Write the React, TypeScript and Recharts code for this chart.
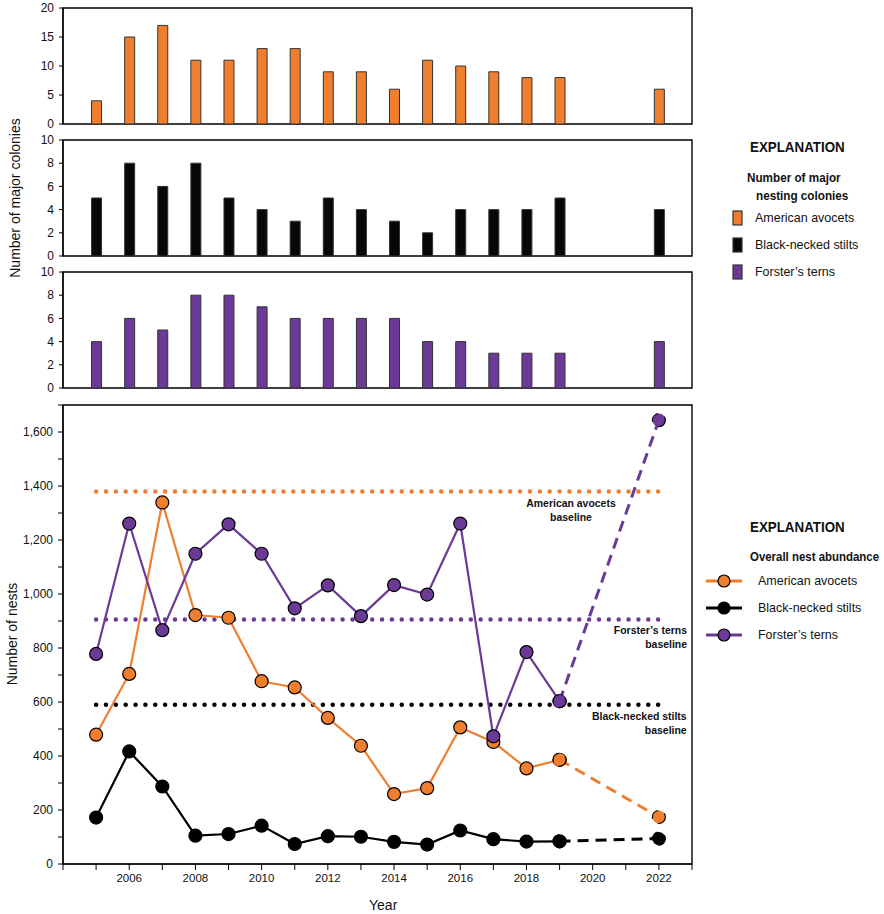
import React from 'react';
import { BarChart, Bar, LineChart, Line, XAxis, YAxis, ReferenceArea, ReferenceLine } from 'recharts';

const FONT = "'Liberation Sans', Arial, sans-serif";
const ORANGE = '#EF7F2F';
const PURPLE = '#6B3A96';
const BLACK = '#060808';

const years = [2005, 2006, 2007, 2008, 2009, 2010, 2011, 2012, 2013, 2014, 2015, 2016, 2017, 2018, 2019, 2022];
const avocetColonies = [4, 15, 17, 11, 11, 13, 13, 9, 9, 6, 11, 10, 9, 8, 8, 6];
const stiltColonies = [5, 8, 6, 8, 5, 4, 3, 5, 4, 3, 2, 4, 4, 4, 5, 4];
const ternColonies = [4, 6, 5, 8, 8, 7, 6, 6, 6, 6, 4, 4, 3, 3, 3, 4];

const avocetNests = [479, 704, 1339, 922, 912, 677, 654, 541, 438, 259, 281, 506, 452, 354, 386, 174];
const stiltNests = [172, 417, 287, 105, 111, 142, 74, 103, 101, 82, 72, 124, 92, 83, 84, 94];
const ternNests = [778, 1261, 866, 1149, 1258, 1149, 947, 1032, 918, 1033, 998, 1261, 473, 785, 603, 1644];

const avocetBaseline = 1380;
const ternBaseline = 906;
const stiltBaseline = 590;
const baselineStart = 2005;
const baselineEnd = 2022;
const lastSurveyYear = 2019;

const xTicks = [2004, 2005, 2006, 2007, 2008, 2009, 2010, 2011, 2012, 2013, 2014, 2015, 2016, 2017, 2018, 2019, 2020, 2021, 2022, 2023];
const nestTicks = [0, 100, 200, 300, 400, 500, 600, 700, 800, 900, 1000, 1100, 1200, 1300, 1400, 1500, 1600, 1700];
const avocetColonyTicks = [0, 5, 10, 15, 20];
const smallColonyTicks = [0, 2, 4, 6, 8, 10];

const lineData = years.map((y, i) => ({
  year: y,
  avocet: y <= lastSurveyYear ? avocetNests[i] : null,
  stilt: y <= lastSurveyYear ? stiltNests[i] : null,
  tern: y <= lastSurveyYear ? ternNests[i] : null,
  avocetD: y >= lastSurveyYear ? avocetNests[i] : null,
  stiltD: y >= lastSurveyYear ? stiltNests[i] : null,
  ternD: y >= lastSurveyYear ? ternNests[i] : null,
}));

const tickStyle = { fill: '#111', fontSize: 12, fontFamily: FONT };

function BarPanel({ values, color, max, ticks, top }: { values: number[]; color: string; max: number; ticks: number[]; top: number }) {
  const data = years.map((y, i) => ({ year: y, value: values[i] }));
  return (
    <div style={{ position: 'absolute', left: 0, top }}>
      <BarChart width={700} height={130} data={data} margin={{ top: 8, right: 8, bottom: 6, left: 0 }} style={{ overflow: 'visible' }}>
        <XAxis type="number" dataKey="year" domain={[2004, 2023]} hide />
        <YAxis
          domain={[0, max]}
          ticks={ticks}
          width={63}
          tickSize={4}
          tickMargin={5}
          interval={0}
          tick={tickStyle}
          axisLine={{ stroke: '#000', strokeWidth: 1.2 }}
          tickLine={{ stroke: '#000' }}
        />
        <ReferenceArea x1={2004} x2={2023} y1={0} y2={max} fill="none" stroke="#000" strokeWidth={1.4} ifOverflow="visible" />
        <Bar dataKey="value" fill={color} stroke="#333" strokeWidth={1} barSize={10} isAnimationActive={false} />
      </BarChart>
    </div>
  );
}

const dotStyle = (c: string) => ({ r: 6.5, fill: c, stroke: '#000', strokeWidth: 1.2 });

function Swatch({ color }: { color: string }) {
  return (
    <svg width={12} height={17} style={{ position: 'absolute', left: 0, top: 0 }}>
      <rect x={1} y={1} width={9} height={14} fill={color} stroke="#333" strokeWidth={1.2} />
    </svg>
  );
}

function LineIcon({ color }: { color: string }) {
  return (
    <svg width={40} height={16} style={{ position: 'absolute', left: 0, top: 0 }}>
      <line x1={2} y1={8} x2={38} y2={8} stroke={color} strokeWidth={3} />
      <circle cx={20} cy={8} r={6} fill={color} stroke="#000" strokeWidth={1.2} />
    </svg>
  );
}

const textBase: React.CSSProperties = { position: 'absolute', fontFamily: FONT, color: '#111', whiteSpace: 'nowrap' };
const condensed = (s: number): React.CSSProperties => ({ transform: `scaleX(${s})`, transformOrigin: 'left center' });

export default function App() {
  return (
    <div style={{ position: 'absolute', left: 0, top: 0, width: 884, height: 914, background: '#fff', overflow: 'hidden' }}>
      <BarPanel values={avocetColonies} color={ORANGE} max={20} ticks={avocetColonyTicks} top={0} />
      <BarPanel values={stiltColonies} color={BLACK} max={10} ticks={smallColonyTicks} top={132} />
      <BarPanel values={ternColonies} color={PURPLE} max={10} ticks={smallColonyTicks} top={264} />

      <div style={{ ...textBase, left: 15, top: 198, fontSize: 14, transform: 'translate(-50%, -50%) rotate(-90deg)' }}>Number of major colonies</div>

      <div style={{ position: 'absolute', left: 0, top: 395 }}>
        <LineChart width={700} height={519} data={lineData} margin={{ top: 10, right: 8, bottom: 0, left: 0 }}>
          <XAxis
            type="number"
            dataKey="year"
            domain={[2004, 2023]}
            ticks={xTicks}
            interval={0}
            height={50}
            tickSize={6}
            tickMargin={4}
            tick={{ ...tickStyle, fontSize: 11.5 }}
            tickFormatter={(v: number) => (v % 2 === 0 && v > 2004 ? String(v) : '')}
            axisLine={{ stroke: '#000', strokeWidth: 1.2 }}
            tickLine={{ stroke: '#000' }}
          />
          <YAxis
            domain={[0, 1700]}
            ticks={nestTicks}
            interval={0}
            width={63}
            tickSize={5}
            tickMargin={5}
            tick={tickStyle}
            tickFormatter={(v: number) => (v % 200 === 0 && v <= 1600 ? v.toLocaleString('en-US') : '')}
            axisLine={{ stroke: '#000', strokeWidth: 1.2 }}
            tickLine={{ stroke: '#000' }}
          />
          <ReferenceArea x1={2004} x2={2023} y1={0} y2={1700} fill="none" stroke="#000" strokeWidth={1.4} ifOverflow="visible" />
          <ReferenceLine segment={[{ x: baselineStart, y: avocetBaseline }, { x: baselineEnd, y: avocetBaseline }]} stroke={ORANGE} strokeWidth={4.5} strokeDasharray="0 9.86" strokeLinecap="round" />
          <ReferenceLine segment={[{ x: baselineStart, y: ternBaseline }, { x: baselineEnd, y: ternBaseline }]} stroke={PURPLE} strokeWidth={4.5} strokeDasharray="0 9.86" strokeLinecap="round" />
          <ReferenceLine segment={[{ x: baselineStart, y: stiltBaseline }, { x: baselineEnd, y: stiltBaseline }]} stroke="#000" strokeWidth={4.5} strokeDasharray="0 9.86" strokeLinecap="round" />
          <Line dataKey="stilt" stroke="#000" strokeWidth={2.2} dot={dotStyle('#000')} isAnimationActive={false} />
          <Line dataKey="stiltD" stroke="#000" strokeWidth={3} strokeDasharray="11 7" connectNulls dot={dotStyle('#000')} isAnimationActive={false} />
          <Line dataKey="avocet" stroke={ORANGE} strokeWidth={2.2} dot={dotStyle(ORANGE)} isAnimationActive={false} />
          <Line dataKey="avocetD" stroke={ORANGE} strokeWidth={3} strokeDasharray="11 7" connectNulls dot={dotStyle(ORANGE)} isAnimationActive={false} />
          <Line dataKey="tern" stroke={PURPLE} strokeWidth={2.2} dot={dotStyle(PURPLE)} isAnimationActive={false} />
          <Line dataKey="ternD" stroke={PURPLE} strokeWidth={3} strokeDasharray="11 7" connectNulls dot={dotStyle(PURPLE)} isAnimationActive={false} />
        </LineChart>
      </div>

      <div style={{ ...textBase, left: 12, top: 634, fontSize: 14, transform: 'translate(-50%, -50%) rotate(-90deg)' }}>Number of nests</div>
      <div style={{ ...textBase, left: 369, top: 897, fontSize: 14, lineHeight: '16px' }}>Year</div>

      <div style={{ ...textBase, left: 571, top: 496, fontSize: 11, fontWeight: 'bold', textAlign: 'center', lineHeight: '14px', transform: 'translateX(-50%) scaleX(0.95)' }}>American avocets<br />baseline</div>
      <div style={{ ...textBase, right: 884 - 687, top: 623, fontSize: 11, fontWeight: 'bold', textAlign: 'right', lineHeight: '14px', transform: 'scaleX(0.95)', transformOrigin: 'right center' }}>Forster’s terns<br />baseline</div>
      <div style={{ ...textBase, right: 884 - 687, top: 709, fontSize: 11, fontWeight: 'bold', textAlign: 'right', lineHeight: '14px', transform: 'scaleX(0.95)', transformOrigin: 'right center' }}>Black-necked stilts<br />baseline</div>

      {/* Top explanation */}
      <div style={{ ...textBase, left: 750, top: 138, fontSize: 15, fontWeight: 'bold', ...condensed(0.89) }}>EXPLANATION</div>
      <div style={{ ...textBase, left: 747, top: 169, fontSize: 13, fontWeight: 'bold', lineHeight: '18px', ...condensed(0.9) }}>Number of major</div>
      <div style={{ ...textBase, left: 756, top: 187, fontSize: 13, fontWeight: 'bold', lineHeight: '18px', ...condensed(0.9) }}>nesting colonies</div>
      {[
        { label: 'American avocets', color: ORANGE, y: 210 },
        { label: 'Black-necked stilts', color: BLACK, y: 237 },
        { label: 'Forster’s terns', color: PURPLE, y: 264 },
      ].map((r) => (
        <div key={r.label} style={{ position: 'absolute', left: 732, top: r.y, width: 150, height: 17 }}>
          <Swatch color={r.color} />
          <div style={{ ...textBase, left: 23, top: 0, fontSize: 13, ...condensed(0.96) }}>{r.label}</div>
        </div>
      ))}

      {/* Bottom explanation */}
      <div style={{ ...textBase, left: 750, top: 518, fontSize: 15, fontWeight: 'bold', ...condensed(0.89) }}>EXPLANATION</div>
      <div style={{ ...textBase, left: 750, top: 549, fontSize: 13, fontWeight: 'bold', ...condensed(0.88) }}>Overall nest abundance</div>
      {[
        { label: 'American avocets', color: ORANGE, y: 573 },
        { label: 'Black-necked stilts', color: '#000', y: 600 },
        { label: 'Forster’s terns', color: PURPLE, y: 627 },
      ].map((r) => (
        <div key={r.label} style={{ position: 'absolute', left: 704, top: r.y, width: 180, height: 17 }}>
          <LineIcon color={r.color} />
          <div style={{ ...textBase, left: 54, top: 0, fontSize: 13, ...condensed(0.96) }}>{r.label}</div>
        </div>
      ))}
    </div>
  );
}
